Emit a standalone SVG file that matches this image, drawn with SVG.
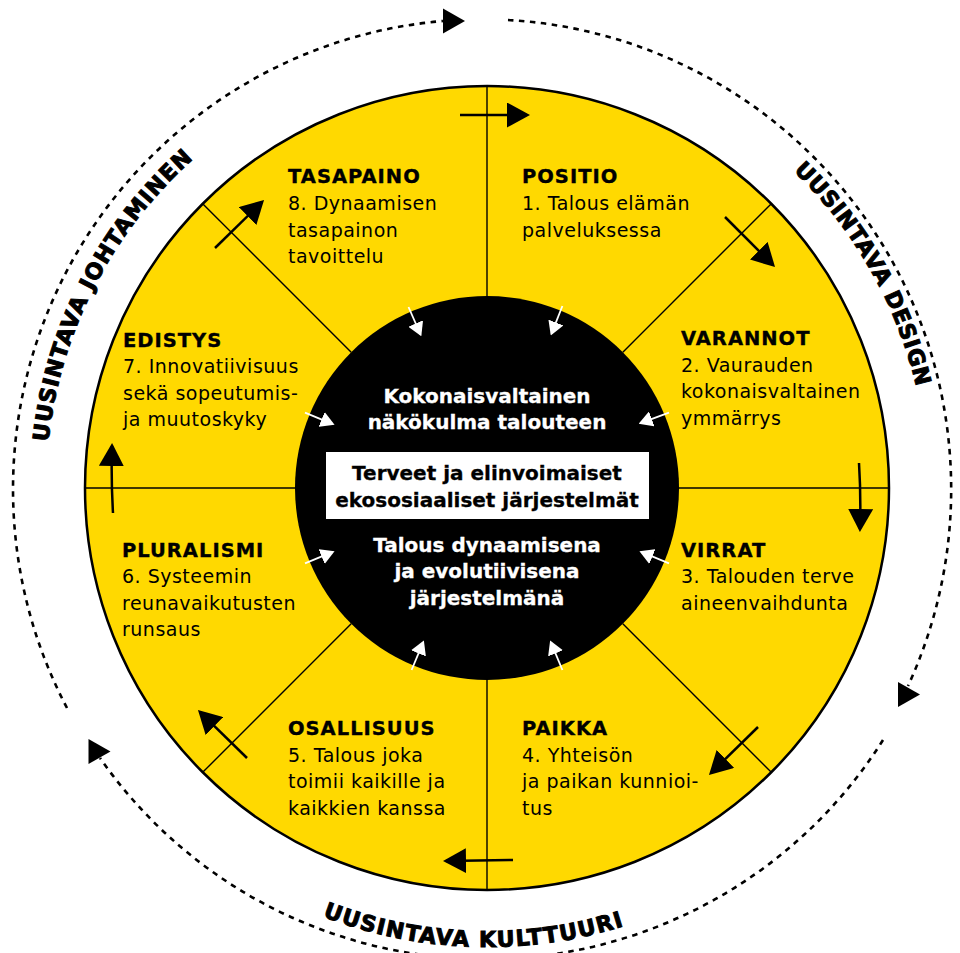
<svg xmlns="http://www.w3.org/2000/svg" width="960" height="953" viewBox="0 0 960 953">
<style>
.title{font-family:"DejaVu Sans",sans-serif;font-weight:bold;font-size:19.5px;letter-spacing:1px;fill:#000;stroke:#000;stroke-width:0.35px}
.body{font-family:"DejaVu Sans",sans-serif;font-size:19px;letter-spacing:0.5px;fill:#000}
.ctr{font-family:"DejaVu Sans",sans-serif;font-weight:bold;font-size:20px;fill:#fff;text-anchor:middle;stroke:#fff;stroke-width:0.3px}
.box{font-family:"DejaVu Sans",sans-serif;font-weight:bold;font-size:20px;fill:#000;text-anchor:middle;stroke:#000;stroke-width:0.3px}
.ring{font-family:"DejaVu Sans",sans-serif;font-weight:bold;font-size:22px;fill:#000;stroke:#000;stroke-width:1px}
.div{stroke:#000;stroke-width:1.4;fill:none}
.blk{stroke:#000;stroke-width:2.5;fill:none;marker-end:url(#ab)}
.wht{stroke:#fff;stroke-width:1.8;fill:none;marker-end:url(#aw)}
.dash{stroke:#000;stroke-width:2.6;fill:none;stroke-dasharray:5.5 5.5}
</style>
<defs>
<marker id="ab" markerUnits="userSpaceOnUse" markerWidth="23" markerHeight="25" viewBox="0 0 23 25" refX="20" refY="12.5" orient="auto">
<path d="M0,0 L23,12.5 L0,25 Z" fill="#000"/>
</marker>
<marker id="aw" markerUnits="userSpaceOnUse" markerWidth="14" markerHeight="16" viewBox="0 0 14 16" refX="12" refY="8" orient="auto">
<path d="M0,0 L14,8 L0,16 Z" fill="#fff"/>
</marker>
<path id="tri" d="M0,0 L0,25 L22,12.5 Z" fill="#000"/>
<path id="pL" d="M48.4,441.9 A441,441 0 0 1 336.2,73.6"/>
<path id="pR" d="M793.4,170.8 A441,441 0 0 1 928,488"/>
<path id="pB" d="M322.5,916.5 A459,459 0 0 0 716.5,885.5"/>
</defs>
<rect width="960" height="953" fill="#fff"/>

<g id="wheel">
<circle cx="487" cy="488" r="402" fill="#FFD900" stroke="#000" stroke-width="2.5"/>
<line class="div" x1="679" y1="488" x2="889" y2="488"/>
<line class="div" x1="622.8" y1="623.8" x2="771.3" y2="772.3"/>
<line class="div" x1="487" y1="680" x2="487" y2="890"/>
<line class="div" x1="351.2" y1="623.8" x2="202.7" y2="772.3"/>
<line class="div" x1="295" y1="488" x2="85" y2="488"/>
<line class="div" x1="351.2" y1="352.2" x2="202.7" y2="203.7"/>
<line class="div" x1="487" y1="296" x2="487" y2="86"/>
<line class="div" x1="622.8" y1="352.2" x2="771.3" y2="203.7"/>
</g>

<g id="center">
<circle cx="487" cy="488" r="192" fill="#000"/>
<text class="ctr" x="487" y="403">Kokonaisvaltainen</text>
<text class="ctr" x="487" y="429">näkökulma talouteen</text>
<rect x="326" y="452" width="323" height="67" fill="#fff"/>
<text class="box" x="487" y="480">Terveet ja elinvoimaiset</text>
<text class="box" x="487" y="507">ekososiaaliset järjestelmät</text>
<text class="ctr" x="487" y="552">Talous dynaamisena</text>
<text class="ctr" x="487" y="578">ja evolutiivisena</text>
<text class="ctr" x="487" y="605">järjestelmänä</text>
</g>

<g id="s1-positio">
<text class="title" x="522" y="183">POSITIO</text>
<text class="body" x="522" y="210">1. Talous elämän</text>
<text class="body" x="522" y="236.5">palveluksessa</text>
</g>
<g id="s2-varannot">
<text class="title" x="681" y="345">VARANNOT</text>
<text class="body" x="681" y="371.5">2. Vaurauden</text>
<text class="body" x="681" y="398">kokonaisvaltainen</text>
<text class="body" x="681" y="424.5">ymmärrys</text>
</g>
<g id="s3-virrat">
<text class="title" x="681" y="556.5">VIRRAT</text>
<text class="body" x="681" y="583">3. Talouden terve</text>
<text class="body" x="681" y="609.5">aineenvaihdunta</text>
</g>
<g id="s4-paikka">
<text class="title" x="522" y="735">PAIKKA</text>
<text class="body" x="522" y="761.5">4. Yhteisön</text>
<text class="body" x="522" y="788">ja paikan kunnioi-</text>
<text class="body" x="522" y="814.5">tus</text>
</g>
<g id="s5-osallisuus">
<text class="title" x="288" y="735">OSALLISUUS</text>
<text class="body" x="288" y="761.5">5. Talous joka</text>
<text class="body" x="288" y="788">toimii kaikille ja</text>
<text class="body" x="288" y="814.5">kaikkien kanssa</text>
</g>
<g id="s6-pluralismi">
<text class="title" x="122" y="556.5">PLURALISMI</text>
<text class="body" x="122" y="583">6. Systeemin</text>
<text class="body" x="122" y="609.5">reunavaikutusten</text>
<text class="body" x="122" y="636">runsaus</text>
</g>
<g id="s7-edistys">
<text class="title" x="123" y="346.5">EDISTYS</text>
<text class="body" x="123" y="373">7. Innovatiivisuus</text>
<text class="body" x="123" y="399.5">sekä sopeutumis-</text>
<text class="body" x="123" y="426">ja muutoskyky</text>
</g>
<g id="s8-tasapaino">
<text class="title" x="288" y="183">TASAPAINO</text>
<text class="body" x="288" y="210">8. Dynaamisen</text>
<text class="body" x="288" y="236.5">tasapainon</text>
<text class="body" x="288" y="263">tavoittelu</text>
</g>

<g id="connectors">
<line class="blk" x1="460" y1="115" x2="527" y2="115"/>
<line class="blk" x1="725" y1="217" x2="772.9" y2="264.9"/>
<path class="blk" d="M859,463 Q861,495 860,529"/>
<line class="blk" x1="758" y1="727" x2="711.1" y2="772.9"/>
<line class="blk" x1="513" y1="860" x2="446" y2="861"/>
<line class="blk" x1="247" y1="758" x2="200.1" y2="712.1"/>
<path class="blk" d="M113,513 Q111,480 112,446"/>
<line class="blk" x1="215" y1="248" x2="261.9" y2="202.1"/>

<line class="wht" x1="408.5" y1="307" x2="420.5" y2="334.5"/>
<line class="wht" x1="562.4" y1="306" x2="551.5" y2="333.7"/>
<line class="wht" x1="669" y1="412.6" x2="640.5" y2="423.1"/>
<line class="wht" x1="669" y1="563.4" x2="641.3" y2="551.9"/>
<line class="wht" x1="562.4" y1="670" x2="550.9" y2="642.3"/>
<line class="wht" x1="411.6" y1="670" x2="423.1" y2="642.3"/>
<line class="wht" x1="305" y1="563.4" x2="332.7" y2="551.9"/>
<line class="wht" x1="305" y1="412.6" x2="332.7" y2="424.1"/>

<path class="dash" d="M67,708 A470,470 0 0 1 443,21"/>
<path class="dash" d="M508,20 A470,470 0 0 1 908,686"/>
<path class="dash" d="M883,740 A470,470 0 0 1 100,758"/>
<use href="#tri" x="443" y="8.5"/>
<use href="#tri" x="898" y="682"/>
<use href="#tri" x="88.5" y="739"/>
</g>

<g id="ring-labels">
<text class="ring" style="letter-spacing:1.05px"><textPath href="#pL">UUSINTAVA JOHTAMINEN</textPath></text>
<text class="ring" style="letter-spacing:0.7px"><textPath href="#pR">UUSINTAVA DESIGN</textPath></text>
<text class="ring" style="letter-spacing:1.3px"><textPath href="#pB">UUSINTAVA KULTTUURI</textPath></text>
</g>
</svg>
